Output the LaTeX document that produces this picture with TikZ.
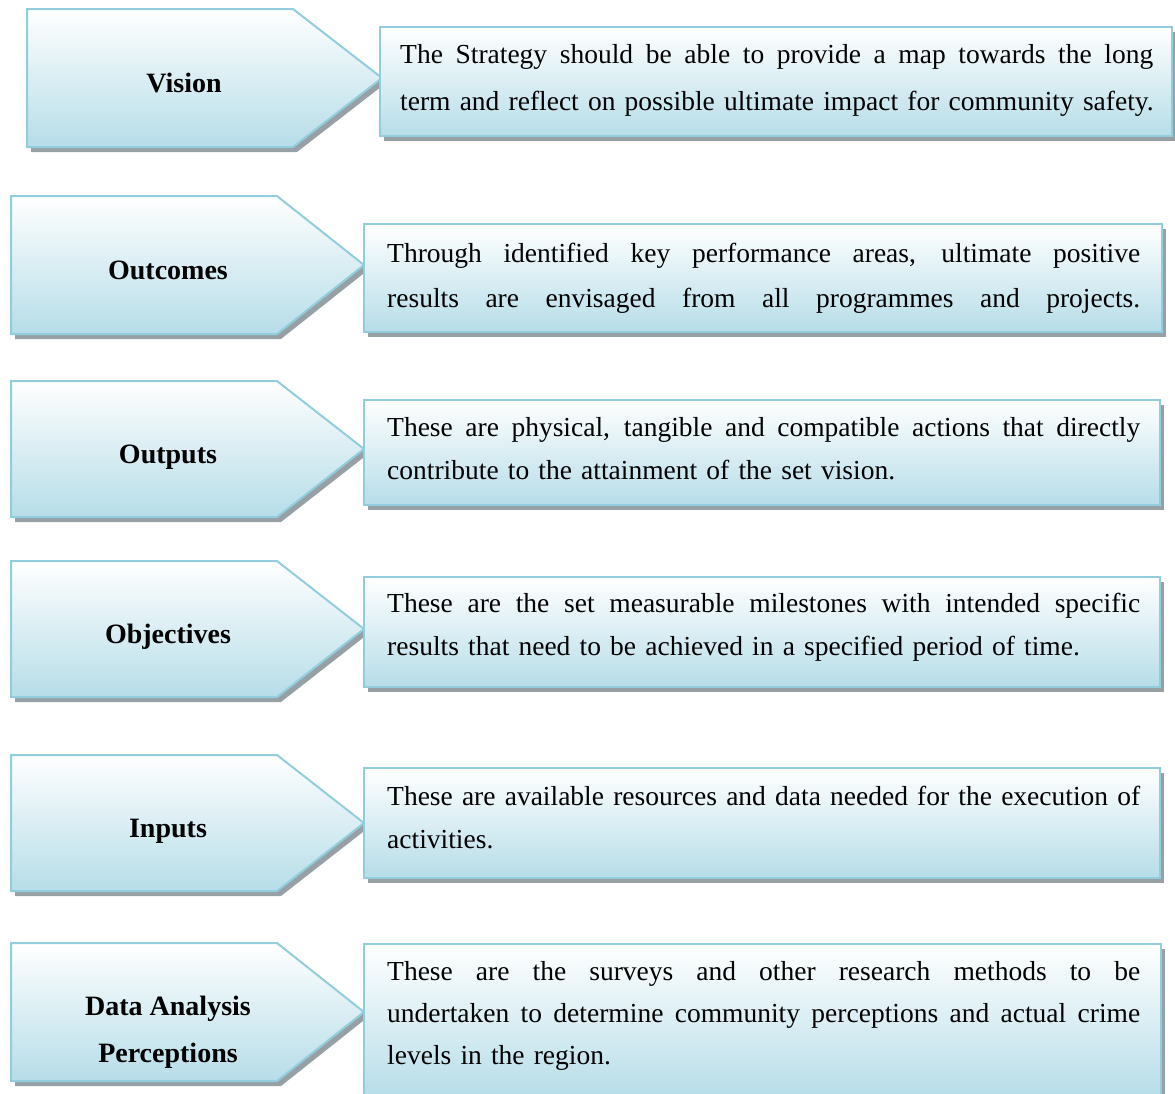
\documentclass[tikz,border=0pt]{standalone}
\usepackage{fontspec}
\setmainfont{Liberation Serif}
\usepackage{xcolor}
\usepackage{tikz}

\definecolor{bordblue}{RGB}{146,205,221}
\definecolor{fillblue}{RGB}{182,221,232}
\definecolor{shadowgray}{RGB}{150,160,165}
\newcommand{\jline}[1]{\makebox[753pt][s]{\spaceskip=\fontdimen2\font plus 1fil\relax #1}}

\begin{document}
\begin{tikzpicture}[x=1pt,y=-1pt,
  tagshape/.style={draw=bordblue,line width=2pt,top color=white,bottom color=fillblue,
    preaction={fill=shadowgray,transform canvas={shift={(4pt,-5pt)}}}},
  tagtext/.style={font=\bfseries\fontsize{28}{47}\selectfont,inner sep=0pt},
  bodytext/.style={text width=753pt,align=left,anchor=north west,inner sep=0pt}]
\useasboundingbox (0,0) rectangle (1175,1093);

% arrows on the left
\draw[tagshape] (27,9)--(293,9)--(382,78)--(293,147)--(27,147)--cycle;
\draw[tagshape] (11,196)--(277,196)--(364,265)--(277,334)--(11,334)--cycle;
\draw[tagshape] (11,381)--(277,381)--(364,449)--(277,517)--(11,517)--cycle;
\draw[tagshape] (11,561)--(277,561)--(364,629)--(277,697)--(11,697)--cycle;
\draw[tagshape] (11,755)--(277,755)--(364,823)--(277,891)--(11,891)--cycle;
\draw[tagshape] (11,943)--(277,943)--(364,1012)--(277,1081)--(11,1081)--cycle;

\node[tagtext,anchor=base] (vision) at (184,92) {Vision};
\node[tagtext,anchor=base] (outcomes) at (168,279) {Outcomes};
\node[tagtext,anchor=base] (outputs) at (168,463) {Outputs};
\node[tagtext,anchor=base] (objectives) at (168,643) {Objectives};
\node[tagtext,anchor=base] (inputs) at (168,837) {Inputs};
\node[tagtext,align=center,anchor=north] (dataan) at (168,996) {Data Analysis\\Perceptions};

% boxes on the right
\draw[tagshape] (380,27) rectangle (1172,136);
\draw[tagshape] (364,224) rectangle (1162,332);
\draw[tagshape] (364,400) rectangle (1160,505);
\draw[tagshape] (364,577) rectangle (1160,687);
\draw[tagshape] (364,768) rectangle (1160,878);
\draw[tagshape] (364,944) rectangle (1161,1098);

\node[bodytext,font=\fontsize{27.5}{47}\selectfont] (visiontxt) at (400,44)
  {\jline{The Strategy should be able to provide a map towards the long}\\
   \mbox{term and reflect on possible ultimate impact for community safety.}};
\node[bodytext,font=\fontsize{27.5}{45}\selectfont] (outcomestxt) at (387,243)
  {\jline{Through identified key performance areas, ultimate positive}\\
   \jline{results are envisaged from all programmes and projects.}};
\node[bodytext,font=\fontsize{27.5}{43}\selectfont] (outputstxt) at (387,417)
  {\jline{These are physical, tangible and compatible actions that directly}\\
   \mbox{contribute to the attainment of the set vision.}};
\node[bodytext,font=\fontsize{27.5}{43}\selectfont] (objectivestxt) at (387,593)
  {\jline{These are the set measurable milestones with intended specific}\\
   \mbox{results that need to be achieved in a specified period of time.}};
\node[bodytext,font=\fontsize{27.5}{43}\selectfont] (inputstxt) at (387,786)
  {\jline{These are available resources and data needed for the execution of}\\
   \mbox{activities.}};
\node[bodytext,font=\fontsize{27.5}{42}\selectfont] (dataantxt) at (387,961)
  {\jline{These are the surveys and other research methods to be}\\
   \jline{undertaken to determine community perceptions and actual crime}\\
   \mbox{levels in the region.}};
\end{tikzpicture}
\end{document}
